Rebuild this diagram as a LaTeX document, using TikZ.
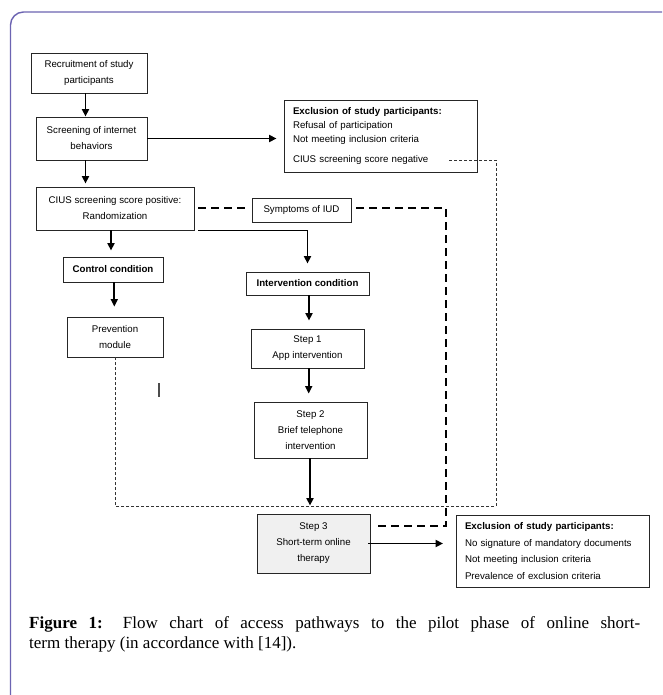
\documentclass[tikz,border=0pt]{standalone}
\usepackage{fontspec}
\setmainfont{Liberation Serif}
\newfontfamily\arialf{Liberation Sans}
\usetikzlibrary{arrows.meta}
\definecolor{framec}{RGB}{108,100,178}
\definecolor{boxgray}{RGB}{240,240,240}
\begin{document}
\begin{tikzpicture}[x=1pt,y=-1pt,
  box/.style={draw=black!85, line width=0.9pt, inner sep=0pt, align=center,
    font=\arialf\fontsize{9.7}{16}\selectfont, text=black},
  exbox/.style={draw=black!85, line width=0.9pt, inner xsep=9pt, inner ysep=0pt,
    text width=175pt, align=left, minimum height=72pt,
    font=\arialf\fontsize{9.7}{14}\selectfont, text=black},
  arr/.style={line width=1.8pt, -{Triangle[length=7.5pt,width=7pt]}},
  thickdash/.style={line width=1.7pt, dash pattern=on 8pt off 5pt},
  thindot/.style={line width=0.8pt, dash pattern=on 3pt off 2pt, black!80},
  capt/.style={anchor=base west, inner sep=0pt, font=\fontsize{17}{20}\selectfont}
]
\useasboundingbox (0,0) rectangle (662,695);
\clip (0,0) rectangle (662,695);
\fill[white] (0,0) rectangle (662,695);
\draw[framec, line width=1.4pt, rounded corners=13pt] (10.5,720) -- (10.5,12) -- (700,12);

% boxes
\node[box, minimum width=116pt, minimum height=40pt] (rec) at (89,73) {Recruitment of study\\participants};
\node[box, minimum width=111pt, minimum height=43pt] (scr) at (91.5,138.5) {Screening of internet\\behaviors};
\node[box, minimum width=158pt, minimum height=43pt] (ciu) at (115,208.5) {CIUS screening score positive:\\Randomization};
\node[exbox] (excl1) at (380.5,136) {\textbf{Exclusion of study participants:}\\Refusal of participation\\Not meeting inclusion criteria\\[5.7pt]CIUS screening score negative};
\node[box, minimum width=99pt, minimum height=24pt] (sym) at (301.5,210) {Symptoms of IUD};
\node[box, minimum width=100pt, minimum height=25pt] (ctl) at (113,269.5) {\textbf{Control condition}};
\node[box, minimum width=96pt, minimum height=40pt] (prev) at (115,337) {Prevention\\module};
\node[box, minimum width=123pt, minimum height=23pt] (int) at (307.5,283.5) {\textbf{Intervention condition}};
\node[box, minimum width=113pt, minimum height=39pt] (s1) at (307.5,348.5) {Step 1\\App intervention};
\node[box, minimum width=113pt, minimum height=56pt] (s2) at (310.5,430) {Step 2\\Brief telephone\\intervention};
\node[box, fill=boxgray, minimum width=113pt, minimum height=59pt] (s3) at (313.5,543.5) {Step 3\\Short-term online\\therapy};
\node[exbox, font=\arialf\fontsize{9.7}{16.7}\selectfont] (excl2) at (552.5,551) {\textbf{Exclusion of study participants:}\\No signature of mandatory documents\\Not meeting inclusion criteria\\Prevalence of exclusion criteria};

% solid arrows
\draw[arr] ([xshift=-3.5pt]rec.south) -- ([xshift=-3.5pt]rec.south |- scr.north);
\draw[arr, shorten >=7pt] (scr.east) -- (scr.east -| excl1.west);
\draw[arr, shorten >=3pt] ([xshift=-6pt]scr.south) -- ([xshift=-6pt]scr.south |- ciu.north);
\draw[arr, shorten >=6pt] ([xshift=-4pt]ciu.south) -- ([xshift=-4pt]ciu.south |- ctl.north);
\draw[arr, shorten >=10pt] ([xshift=1.3pt]ctl.south) -- ([xshift=1.3pt]ctl.south |- prev.north);
\draw[arr, shorten >=8pt] ([xshift=4pt]ciu.south east) -| (int.north);
\draw[arr, shorten >=8pt] ([xshift=1.5pt]int.south) -- ([xshift=1.5pt]int.south |- s1.north);
\draw[arr, shorten >=8pt] ([xshift=1.2pt]s1.south) -- ([xshift=1.2pt]s1.south |- s2.north);
\draw[arr, shorten >=8pt] ([xshift=-0.5pt]s2.south) -- ([xshift=-0.5pt]s2.south |- s3.north);
\draw[arr, shorten >=12.5pt] ([xshift=-2pt]s3.east) -- (s3.east -| excl2.west);

% thick dashed
\coordinate (dc1) at (446,208);
\coordinate (dc2) at (446,526);
\draw[thickdash] ([xshift=4pt]ciu.east |- dc1) -- ([xshift=-2pt]sym.west |- dc1);
\draw[thickdash] ([xshift=5pt]sym.east |- dc1) -- (dc1) -- (dc2) -- ([xshift=6.7pt]s3.east |- dc2);

% thin dotted
\coordinate (neg) at (449,160);
\coordinate (dt1) at (496,160);
\coordinate (dt2) at (496,506);
\draw[thindot] (neg) -- (dt1) -- (dt2) -- (prev.south |- dt2) -- (prev.south);

% stray tick
\draw[black!70, line width=1.2pt] (159,383) -- (159,397);

% caption
\node[capt] (cap1) at (29,628) {\makebox[611pt][s]{\textbf{Figure 1:} Flow chart of access pathways to the pilot phase of online short-}};
\node[capt] (cap2) at (29,648) {term therapy (in accordance with [14]).};
\end{tikzpicture}
\end{document}
